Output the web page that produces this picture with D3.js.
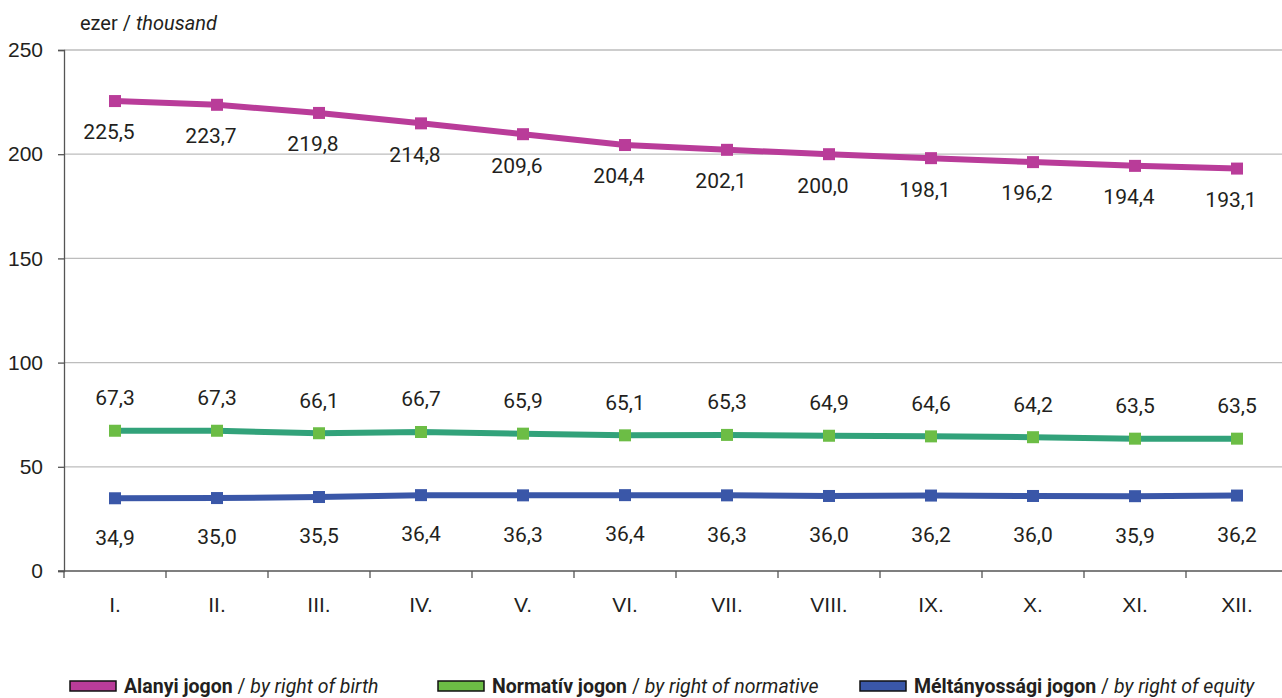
<!DOCTYPE html>
<html>
<head>
<meta charset="utf-8">
<script src="https://cdn.jsdelivr.net/npm/d3@7"></script>
<style>
  body { margin: 0; background: #fff; }
  svg { display: block; font-family: Roboto, "Open Sans", sans-serif; }
</style>
</head>
<body>
<div class="chart"></div>
<script>
let width = 1282
let height = 698

let months = ['I.', 'II.', 'III.', 'IV.', 'V.', 'VI.', 'VII.', 'VIII.', 'IX.', 'X.', 'XI.', 'XII.']
let birth = [225.5, 223.7, 219.8, 214.8, 209.6, 204.4, 202.1, 200.0, 198.1, 196.2, 194.4, 193.1]
let normative = [67.3, 67.3, 66.1, 66.7, 65.9, 65.1, 65.3, 64.9, 64.6, 64.2, 63.5, 63.5]
let equity = [34.9, 35.0, 35.5, 36.4, 36.3, 36.4, 36.3, 36.0, 36.2, 36.0, 35.9, 36.2]
let yTicks = [0, 50, 100, 150, 200, 250]

let series = [
    { hu: 'Alanyi jogon', en: 'by right of birth', values: birth, line: '#b93c99', marker: '#b93c99', legend: '#b93c99', dx: -6, dy: 31 },
    { hu: 'Normatív jogon', en: 'by right of normative', values: normative, line: '#32a27a', marker: '#6cbd45', legend: '#6cbd45', dx: 0, dy: -33 },
    { hu: 'Méltányossági jogon', en: 'by right of equity', values: equity, line: '#3a57a8', marker: '#3a57a8', legend: '#3a57a8', dx: 0, dy: 39 }
]

let plotLeft = 64, plotRight = 1288, plotTop = 50, plotBottom = 571
let numSize = 21

let x = d3.scaleBand().domain(months).range([plotLeft, plotRight])
let y = d3.scaleLinear().domain([0, 250]).range([plotBottom, plotTop])

const svg = d3.create("svg")
    .attr("width", width)
    .attr("height", height)

// grid lines
svg.append("g")
    .selectAll("line")
    .data(yTicks.filter(d => d > 0))
    .join("line")
    .attr("x1", plotLeft).attr("x2", 1282)
    .attr("y1", d => y(d)).attr("y2", d => y(d))
    .attr("stroke", "#bdbdbd")
    .attr("stroke-width", 1.3)

// y axis
let yAxis = svg.append("g")
    .attr("transform", `translate(${plotLeft},0)`)
    .call(d3.axisLeft(y).tickValues(yTicks).tickSize(6).tickPadding(15))
yAxis.select(".domain").attr("stroke", "#555").attr("stroke-width", 1.3)
yAxis.selectAll(".tick line").attr("stroke", "#555").attr("stroke-width", 1.3)
yAxis.selectAll("text").attr("font-size", numSize).attr("fill", "#231f20")

// x axis
let xAxis = svg.append("g")
    .attr("transform", `translate(0,${plotBottom})`)
    .call(d3.axisBottom(x).tickSize(0).tickPadding(26))
xAxis.select(".domain").attr("stroke", "#555").attr("stroke-width", 1.3).attr("d", `M${plotLeft - 6},0H1282`)
xAxis.selectAll("text").attr("font-size", numSize).attr("fill", "#231f20")
svg.append("g")
    .selectAll("line")
    .data(months.map(m => x(m)))
    .join("line")
    .attr("x1", d => d).attr("x2", d => d)
    .attr("y1", plotBottom).attr("y2", plotBottom + 7)
    .attr("stroke", "#555").attr("stroke-width", 1.3)

svg.append("text")
    .attr("x", 80).attr("y", 30)
    .attr("font-size", 20)
    .attr("fill", "#231f20")
    .call(t => {
        t.append("tspan").text("ezer / ")
        t.append("tspan").attr("font-style", "italic").text("thousand")
    })

let line = d3.line()
    .x((d, i) => x(months[i]) + x.bandwidth() / 2)
    .y(d => y(d))

series.forEach(s => {
    let g = svg.append("g")
    g.append("path")
        .attr("d", line(s.values))
        .attr("fill", "none")
        .attr("stroke", s.line)
        .attr("stroke-width", 6)
    g.selectAll("rect")
        .data(s.values)
        .join("rect")
        .attr("x", (d, i) => x(months[i]) + x.bandwidth() / 2 - 6)
        .attr("y", d => y(d) - 6)
        .attr("width", 12).attr("height", 12)
        .attr("fill", s.marker)
    g.selectAll("text")
        .data(s.values)
        .join("text")
        .attr("x", (d, i) => x(months[i]) + x.bandwidth() / 2 + s.dx)
        .attr("y", d => y(d) + s.dy)
        .attr("dy", "0.35em")
        .attr("text-anchor", "middle")
        .attr("font-size", numSize)
        .attr("fill", "#231f20")
        .text(d => d3.format(".1f")(d).replace(".", ","))
})

// legend
let legendX = [70, 438, 860]
let legend = svg.append("g")
    .selectAll("g")
    .data(series)
    .join("g")
    .attr("transform", (d, i) => `translate(${legendX[i]},686)`)
legend.append("rect")
    .attr("x", 0).attr("y", -5)
    .attr("width", 46).attr("height", 10)
    .attr("fill", d => d.legend)
    .attr("stroke", "#111")
    .attr("stroke-width", 1.5)
legend.append("text")
    .attr("x", 54).attr("dy", "0.35em")
    .attr("font-size", 19.5)
    .attr("fill", "#231f20")
    .call(t => {
        t.append("tspan").attr("font-weight", "bold").text(d => d.hu)
        t.append("tspan").text(" / ")
        t.append("tspan").attr("font-style", "italic").text(d => d.en)
    })

d3.select(".chart").node().append(svg.node())
</script>
</body>
</html>
